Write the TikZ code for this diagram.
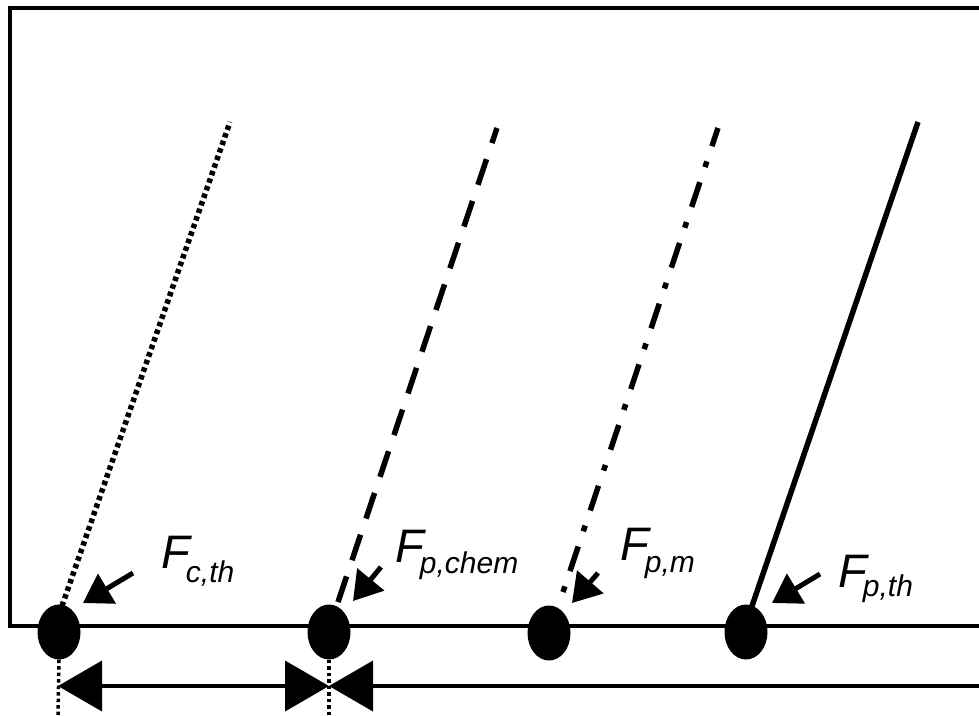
\documentclass[tikz,border=0pt]{standalone}
\usepackage{fontspec}
\setmainfont{Liberation Sans}
\usetikzlibrary{arrows.meta,shapes.geometric}
\tikzset{
  dotnode/.style={ellipse,fill=black,minimum width=43pt,minimum height=55pt,inner sep=0pt},
  frameline/.style={line width=3.6pt},
  forceline/.style={line width=5.5pt},
  pointer/.style={line width=5pt,-{Triangle[length=28pt,width=34pt]}},
  lbl/.style={font=\fontsize{47}{50}\selectfont\itshape,inner sep=0pt,anchor=base west},
  bigarrow/.style={line width=4pt},
  BigTri/.tip={Triangle[length=44pt,width=50pt]},
  vdots/.style={line width=3.5pt,dash pattern=on 3.5pt off 3pt}
}
\newcommand{\flabel}[2]{F\kern-4pt\raisebox{-#2}{\fontsize{30}{32}\selectfont\itshape #1}}
\begin{document}
\begin{tikzpicture}[x=1pt,y=-1pt]
\useasboundingbox (0,0) rectangle (979,715);
% frame
\draw[frameline] (981,8) -- (10,8) -- (10,626) -- (981,626);
% line ends
\coordinate (s1) at (62,606);
\coordinate (t1) at (230,122);
\coordinate (s2) at (338,602);
\coordinate (t2) at (497,128);
\coordinate (s3) at (563,592);
\coordinate (t3) at (718,128);
\coordinate (s4) at (752,606);
\coordinate (t4) at (918,122);
% force lines
\draw[forceline,dash pattern=on 4.5pt off 3.5pt] (s1) -- (t1);
\draw[forceline,dash pattern=on 27pt off 17pt] (s2) -- (t2);
\draw[forceline,dash pattern=on 6pt off 16pt on 26pt off 16pt] (s3) -- (t3);
\draw[forceline] (s4) -- (t4);
% dots
\node[dotnode] (d1) at (59,632) {};
\node[dotnode] (d2) at (329,632) {};
\node[dotnode] (d3) at (549,633) {};
\node[dotnode] (d4) at (746,632) {};
% pointers
\coordinate (p1) at (133,573); \coordinate (q1) at (83,603);
\coordinate (p2) at (381,567); \coordinate (q2) at (353,601);
\coordinate (p3) at (598,573); \coordinate (q3) at (572,603);
\coordinate (p4) at (820,574); \coordinate (q4) at (772,603);
\draw[pointer] (p1) -- (q1);
\draw[pointer] (p2) -- (q2);
\draw[pointer] (p3) -- (q3);
\draw[pointer] (p4) -- (q4);
% labels
\node[lbl] (l1) at (161,568) {\flabel{c,th}{14pt}};
\node[lbl] (l2) at (395,562) {\flabel{p,chem}{11pt}};
\node[lbl] (l3) at (620,560) {\flabel{p,m}{12pt}};
\node[lbl] (l4) at (838,587) {\flabel{p,th}{9pt}};
% vertical dotted markers
\draw[vdots] (d1.south) -- (58,715);
\draw[vdots] (d2.south) -- (329,715);
% bottom arrows
\coordinate (a1) at (58,686);
\coordinate (a2) at (329,686);
\coordinate (a3) at (981,686);
\draw[bigarrow,{BigTri}-{BigTri}] (a1) -- (a2);
\draw[bigarrow,{BigTri}-] (a2) -- (a3);
\end{tikzpicture}
\end{document}
